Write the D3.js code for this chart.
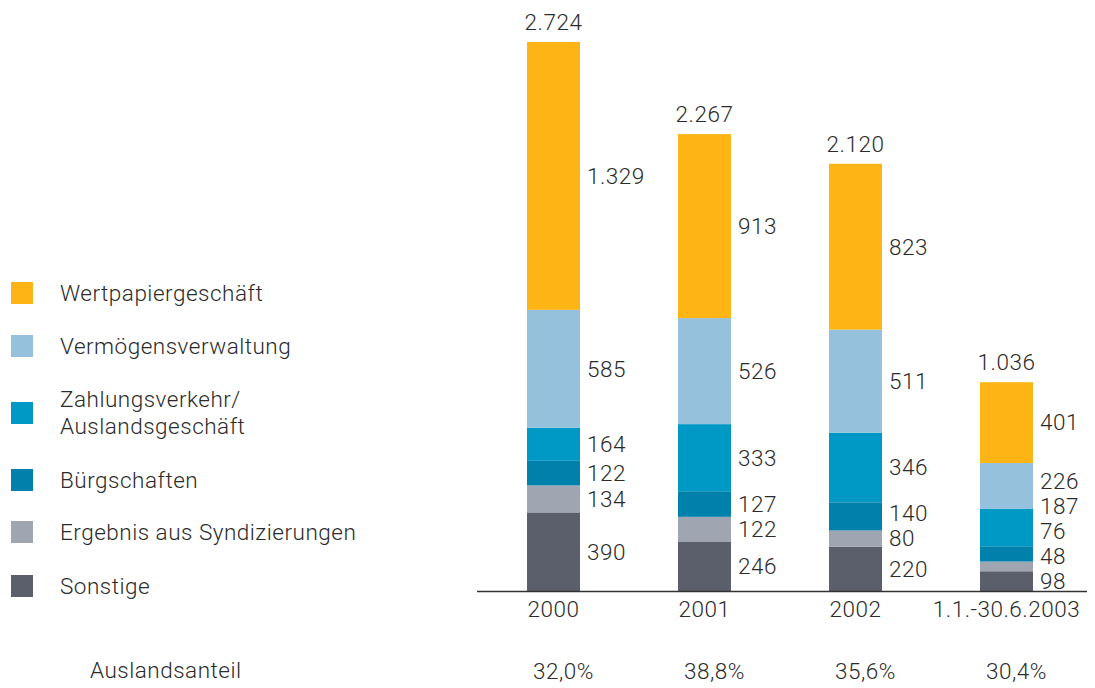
<!DOCTYPE html>
<html>
<head>
<meta charset="utf-8">
<script src="https://cdn.jsdelivr.net/npm/d3@7"></script>
<style>
  body { margin: 0; background: #fff; }
  text { font-family: Roboto, "Liberation Sans", sans-serif; font-weight: 300; fill: #2b2b2b;
         font-size: 22.5px; letter-spacing: 0.5px; }
</style>
</head>
<body>
<div id="chart"></div>
<script>
// categories and series (bottom to top of the stack)
var periods = ["2000", "2001", "2002", "1.1.-30.6.2003"];
var sonstige        = [390, 246, 220, 98];
var syndizierungen  = [134, 122, 80, 48];
var buergschaften   = [122, 127, 140, 76];
var zahlungsverkehr = [164, 333, 346, 187];
var vermoegen       = [585, 526, 511, 226];
var wertpapier      = [1329, 913, 823, 401];
var totals          = ["2.724", "2.267", "2.120", "1.036"];
var auslandsanteil  = ["32,0%", "38,8%", "35,6%", "30,4%"];
var legendLabels = [["Wertpapiergeschäft"], ["Vermögensverwaltung"], ["Zahlungsverkehr/", "Auslandsgeschäft"],
                    ["Bürgschaften"], ["Ergebnis aus Syndizierungen"], ["Sonstige"]];

var colors = ["#5b5f6b", "#a0a6b1", "#0081ab", "#0099c5", "#96c1dd", "#fdb515"];
var legendColors = ["#fdb515", "#96c1dd", "#0099c5", "#0081ab", "#a0a6b1", "#5b5f6b"];

var width = 1095, height = 688;
var svg = d3.select("#chart").append("svg")
    .attr("width", width).attr("height", height);

// build rows for the stack
var rows = periods.map(function(p, i) {
    return {
        period: p,
        s0: sonstige[i], s1: syndizierungen[i], s2: buergschaften[i],
        s3: zahlungsverkehr[i], s4: vermoegen[i], s5: wertpapier[i]
    };
});
var keys = ["s0", "s1", "s2", "s3", "s4", "s5"];
var stacked = d3.stack().keys(keys)(rows);

var x = d3.scaleBand().domain(periods).range([527, 1033]).paddingInner(0.649).paddingOuter(0);
var maxTotal = d3.max(rows, function(d) { return d3.sum(keys, function(k) { return d[k]; }); });
var y = d3.scaleLinear().domain([0, maxTotal]).range([591, 42]);

// bars
svg.append("g").selectAll("g")
    .data(stacked).enter()
    .append("g")
    .attr("fill", function(d, i) { return colors[i]; })
    .selectAll("rect")
    .data(function(d) { return d; }).enter()
    .append("rect")
    .attr("x", function(d) { return x(d.data.period); })
    .attr("y", function(d) { return y(d[1]); })
    .attr("height", function(d) { return y(d[0]) - y(d[1]); })
    .attr("width", x.bandwidth());

// segment labels: centred on segment, pushed up when they would collide
var gap = 25;
periods.forEach(function(p, i) {
    var prev = null;
    stacked.forEach(function(layer) {
        var seg = layer[i];
        var cy = (y(seg[0]) + y(seg[1])) / 2;
        if (prev !== null) cy = Math.min(cy, prev - gap);
        prev = cy;
        svg.append("text")
            .attr("x", x(p) + x.bandwidth() + 7)
            .attr("y", cy)
            .attr("dy", "0.35em")
            .text(d3.format(",")(seg[1] - seg[0]).replace(/,/g, "."));
    });
});

// totals on top
svg.append("g").selectAll("text")
    .data(periods).enter()
    .append("text")
    .attr("x", function(d) { return x(d) + x.bandwidth() / 2; })
    .attr("y", function(d, i) { return y(stacked[stacked.length - 1][i][1]) - 12; })
    .attr("text-anchor", "middle")
    .text(function(d, i) { return totals[i]; });

// baseline
svg.append("line")
    .attr("x1", 477).attr("x2", 1087)
    .attr("y1", y(0) + 0.5).attr("y2", y(0) + 0.5)
    .attr("stroke", "#333").attr("stroke-width", 1.5);

// category labels
svg.append("g").selectAll("text")
    .data(periods).enter()
    .append("text")
    .attr("x", function(d) { return x(d) + x.bandwidth() / 2; })
    .attr("y", 609)
    .attr("dy", "0.35em")
    .attr("text-anchor", "middle")
    .text(function(d) { return d; });

// Auslandsanteil row
svg.append("text")
    .attr("x", 90).attr("y", 670).attr("dy", "0.35em")
    .text("Auslandsanteil");
svg.append("g").selectAll("text")
    .data(auslandsanteil).enter()
    .append("text")
    .attr("x", function(d, i) { return x(periods[i]) + x.bandwidth() / 2 + 10; })
    .attr("y", 671)
    .attr("dy", "0.35em")
    .attr("text-anchor", "middle")
    .text(function(d) { return d; });

// legend
var legendY = [293, 346, 413, 480, 532, 586];
var legend = svg.append("g").selectAll("g")
    .data(legendLabels).enter()
    .append("g")
    .attr("transform", function(d, i) { return "translate(0," + legendY[i] + ")"; });
legend.append("rect")
    .attr("x", 11).attr("y", -11)
    .attr("width", 22).attr("height", 22)
    .attr("fill", function(d, i) { return legendColors[i]; });
legend.append("text")
    .attr("x", 60)
    .selectAll("tspan")
    .data(function(d) { return d; }).enter()
    .append("tspan")
    .attr("x", 60)
    .attr("y", function(t, j, arr) { return (j - (arr.length - 1) / 2) * 27; })
    .attr("dy", "0.35em")
    .text(function(t) { return t; });
</script>
</body>
</html>
